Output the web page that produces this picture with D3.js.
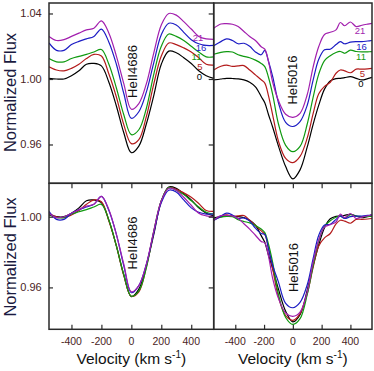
<!DOCTYPE html>
<html><head><meta charset="utf-8">
<script src="https://cdn.jsdelivr.net/npm/d3@7"></script>
<style>body{margin:0;background:#fff}svg{display:block}text{font-family:"Liberation Sans",Arial,sans-serif}</style>
</head><body><svg id="c" width="374" height="371"></svg>
<script>
// ---- data ----
const velocityHeII = [-550,-500,-450,-400,-350,-300,-250,-200,-150,-100,-50,0,50,100,150,200,250,300,350,400,450,500,550];
const velocityHeI = [-550,-500,-460,-420,-380,-340,-300,-260,-220,-195,-170,-140,-100,-50,0,50,100,140,180,220,260,300,330,360,400,440,480,520,550];
const seriesNames = ["0","5","11","16","21"];
const seriesColors = ["#000000","#b31b1b","#109a10","#1c1cc4","#a21fae"];
// top-left: HeII4686 (offset)
const heII_top_0  = [1.0004,1.000,1.000,1.002,1.005,1.009,1.0095,1.008,0.998,0.9835,0.967,0.955,0.959,0.9725,0.990,1.009,1.017,1.016,1.013,1.0095,1.005,1.002,1.0004];
const heII_top_5  = [1.0075,1.0055,1.005,1.0065,1.009,1.0125,1.015,1.014,1.003,0.989,0.972,0.9605,0.963,0.977,0.997,1.014,1.022,1.021,1.019,1.0165,1.013,1.009,1.0085];
const heII_top_11 = [1.0125,1.0105,1.0105,1.0125,1.0138,1.015,1.0165,1.018,1.009,0.9945,0.978,0.966,0.969,0.982,1.003,1.020,1.0275,1.026,1.0235,1.020,1.0165,1.0135,1.0135];
const heII_top_16 = [1.022,1.0175,1.0175,1.021,1.023,1.0245,1.026,1.0305,1.0225,1.009,0.991,0.976,0.980,0.992,1.010,1.027,1.034,1.033,1.0285,1.024,1.0215,1.0205,1.0205];
const heII_top_21 = [1.026,1.0235,1.024,1.026,1.028,1.030,1.031,1.0355,1.028,1.014,0.997,0.9815,0.985,0.997,1.016,1.033,1.040,1.039,1.035,1.0305,1.026,1.0245,1.0242];
// top-right: HeI5016 (offset)
const heI_top_0  = [0.9994,1.000,1.0004,1.0003,1.0001,0.9995,0.998,0.9952,0.9893,0.9855,0.9785,0.9705,0.959,0.9465,0.939,0.9445,0.9585,0.972,0.984,0.9938,0.9988,1.0002,1.0004,1.0008,1.0014,1.0004,0.9994,1.0002,1.001];
const heI_top_5  = [1.0055,1.0078,1.0085,1.0077,1.008,1.0082,1.0055,1.0025,0.9995,0.9975,0.990,0.978,0.962,0.9515,0.9489,0.9527,0.964,0.9785,0.991,0.9955,0.998,1.0035,1.0055,1.005,1.0038,1.006,1.006,1.0062,1.0065];
const heI_top_11 = [1.0151,1.0163,1.0167,1.0165,1.0148,1.0138,1.013,1.0115,1.0095,1.0075,1.0012,0.9905,0.9725,0.9595,0.9556,0.9588,0.9725,0.9885,1.003,1.0112,1.0142,1.0162,1.0168,1.0157,1.0176,1.0168,1.0165,1.0166,1.0167];
const heI_top_16 = [1.0203,1.0228,1.0245,1.0235,1.0215,1.0218,1.020,1.0165,1.0148,1.0175,1.011,1.0015,0.9855,0.9735,0.971,0.974,0.984,0.999,1.012,1.0178,1.0182,1.021,1.0228,1.0215,1.0225,1.0228,1.0228,1.0232,1.0235];
const heI_top_21 = [1.031,1.0336,1.0338,1.0334,1.032,1.029,1.026,1.0235,1.0197,1.0182,1.011,0.998,0.9868,0.9785,0.9766,0.979,0.9905,1.007,1.0198,1.0272,1.0285,1.030,1.0345,1.0325,1.0348,1.032,1.0328,1.0335,1.034];
// bottom-left: HeII4686 (no offset)
const heII_bot_0  = [1.001,1.000,1.000,1.002,1.005,1.009,1.0095,1.008,0.998,0.9835,0.967,0.9548,0.959,0.9725,0.990,1.009,1.0168,1.016,1.013,1.0095,1.005,1.002,1.0004];
const heII_bot_5  = [1.002,1.000,0.9995,1.001,1.0035,1.007,1.0095,1.0085,0.9975,0.9835,0.9665,0.955,0.9575,0.9715,0.9915,1.0085,1.0165,1.0155,1.0135,1.011,1.0075,1.0035,1.003];
const heII_bot_11 = [1.0015,0.9995,0.9995,1.0015,1.0028,1.004,1.0055,1.007,0.998,0.9835,0.967,0.955,0.958,0.971,0.992,1.009,1.0165,1.015,1.0125,1.009,1.0055,1.0025,1.0015];
const heII_bot_16 = [1.003,0.9985,0.9985,1.002,1.004,1.0055,1.007,1.0115,1.0035,0.990,0.972,0.957,0.961,0.973,0.991,1.008,1.015,1.014,1.0095,1.005,1.0025,1.0015,1.0015];
const heII_bot_21 = [1.002,0.9995,1.000,1.002,1.004,1.006,1.007,1.0115,1.004,0.990,0.973,0.9575,0.961,0.973,0.992,1.009,1.016,1.015,1.011,1.0065,1.002,1.0005,1.000];
// bottom-right: HeI5016 (no offset)
const heI_bot_0  = [0.9994,1.000,1.0004,1.0003,1.0001,0.9995,0.998,0.9952,0.9893,0.9855,0.9785,0.9705,0.959,0.9465,0.9405,0.9445,0.9585,0.972,0.984,0.9938,0.9988,1.0002,1.0004,1.0008,1.0014,1.0004,0.9994,1.0002,1.001];
const heI_bot_5  = [0.998,1.0003,1.001,1.0002,1.0005,1.0007,0.998,0.995,0.992,0.990,0.9825,0.9705,0.9545,0.944,0.9414,0.9452,0.9565,0.971,0.9835,0.988,0.9905,0.996,0.998,0.9975,0.9963,0.9985,0.9985,0.9987,0.999];
const heI_bot_11 = [0.9986,0.9998,1.0002,1.000,0.9983,0.9973,0.9965,0.995,0.993,0.991,0.9847,0.974,0.956,0.943,0.9391,0.9423,0.956,0.972,0.9865,0.9947,0.9977,0.9997,1.0003,0.9992,1.0011,1.0003,1.000,1.0001,1.0002];
const heI_bot_16 = [0.9978,1.0003,1.002,1.001,0.999,0.9993,0.9975,0.9935,0.9905,0.990,0.982,0.9725,0.963,0.951,0.9485,0.9515,0.9615,0.976,0.9895,0.9953,0.9957,0.9985,1.0003,0.999,1.000,1.0003,1.0003,1.0007,1.001];
const heI_bot_21 = [0.998,1.0006,1.0008,1.0004,0.999,0.996,0.993,0.9895,0.986,0.9852,0.978,0.965,0.9538,0.9455,0.9436,0.946,0.9575,0.974,0.9868,0.9942,0.9955,0.997,1.0015,0.9995,1.0018,0.999,0.9998,1.0005,1.001];
const xTicks = [-400,-200,0,200,400];
const yTicksTop = [0.96,1.00,1.04];
const yTicksBot = [0.96,1.00];
const lineLabels = ["HeII4686","HeI5016"];

// ---- layout ----
const svg = d3.select("#c");
const colX = [[49,213.7],[213.7,372]];
const rowY = [[3,183.3],[183.3,329.3]];
const yDom = [[0.9363,1.0464],[0.9363,1.0189]];
const frame = "#2a2a2a", tickCol = "#4a2424";

const panels = [
  {c:0,r:0,v:velocityHeII,data:[heII_top_0,heII_top_5,heII_top_11,heII_top_16,heII_top_21],label:lineLabels[0],ly:71.5,lx:137},
  {c:1,r:0,v:velocityHeI,data:[heI_top_0,heI_top_5,heI_top_11,heI_top_16,heI_top_21],label:lineLabels[1],ly:80,lx:297},
  {c:0,r:1,v:velocityHeII,data:[heII_bot_0,heII_bot_5,heII_bot_11,heII_bot_16,heII_bot_21],label:lineLabels[0],ly:243,lx:137},
  {c:1,r:1,v:velocityHeI,data:[heI_bot_0,heI_bot_5,heI_bot_11,heI_bot_16,heI_bot_21],label:lineLabels[1],ly:267.5,lx:298}
];

panels.forEach(p=>{
  const x = d3.scaleLinear().domain([-550,550]).range(colX[p.c]);
  const y = d3.scaleLinear().domain(yDom[p.r]).range([rowY[p.r][1],rowY[p.r][0]]);
  p.x=x; p.y=y;
  const clipId = "clip"+p.c+p.r;
  svg.append("clipPath").attr("id",clipId).append("rect")
    .attr("x",colX[p.c][0]).attr("y",rowY[p.r][0])
    .attr("width",colX[p.c][1]-colX[p.c][0]).attr("height",rowY[p.r][1]-rowY[p.r][0]);
  const g = svg.append("g").attr("clip-path","url(#"+clipId+")");
  const line = d3.line().x((d,i)=>x(p.v[i])).y(d=>y(d)).curve(d3.curveCatmullRom.alpha(0.5));
  p.data.forEach((arr,k)=>{
    g.append("path").attr("d",line(arr)).attr("fill","none")
      .attr("stroke",seriesColors[k]).attr("stroke-width",1.2);
  });
  svg.append("text").attr("transform",`translate(${p.lx},${p.ly}) rotate(-90)`)
    .attr("text-anchor","middle").attr("font-size",13).attr("fill","#111").text(p.label);
});

// frames
panels.forEach(p=>{
  svg.append("rect").attr("x",colX[p.c][0]).attr("y",rowY[p.r][0])
    .attr("width",colX[p.c][1]-colX[p.c][0]).attr("height",rowY[p.r][1]-rowY[p.r][0])
    .attr("fill","none").attr("stroke",frame).attr("stroke-width",1.5);
});

// y ticks
[0,1].forEach(r=>{
  const p = panels.find(q=>q.c===0&&q.r===r);
  const ticks = r===0?yTicksTop:yTicksBot;
  const axL = d3.axisRight(p.y).tickValues(ticks).tickSize(4).tickFormat("");
  const gl = svg.append("g").attr("transform",`translate(${colX[0][0]},0)`).call(axL);
  const axR = d3.axisLeft(p.y).tickValues(ticks).tickSize(5).tickFormat("");
  const gr = svg.append("g").attr("transform",`translate(${colX[0][1]},0)`).call(axR);
  [gl,gr].forEach(g=>{g.select(".domain").remove();g.selectAll("line").attr("stroke",frame).attr("stroke-width",1.2);});
  ticks.forEach(t=>{
    svg.append("text").attr("x",41.7).attr("y",p.y(t)).attr("dy","0.36em")
      .attr("text-anchor","end").attr("font-size",11).attr("fill",tickCol).text(d3.format(".2f")(t));
  });
});

// x ticks
[0,1].forEach(c=>{
  const p = panels.find(q=>q.c===c&&q.r===1);
  const axB = d3.axisTop(p.x).tickValues(xTicks).tickSize(4.5).tickFormat("");
  const gb = svg.append("g").attr("transform",`translate(0,${rowY[1][1]})`).call(axB);
  const axT = d3.axisBottom(p.x).tickValues(xTicks).tickSize(5).tickFormat("");
  const gt = svg.append("g").attr("transform",`translate(0,${rowY[1][0]})`).call(axT);
  [gb,gt].forEach(g=>{g.select(".domain").remove();g.selectAll("line").attr("stroke",frame).attr("stroke-width",1.2);});
  xTicks.forEach(t=>{
    svg.append("text").attr("x",p.x(t)).attr("y",345).attr("text-anchor","middle")
      .attr("font-size",10.5).attr("fill",tickCol).text(t);
  });
  const cx = p.x(0);
  const t = svg.append("text").attr("x",cx).attr("y",364).attr("text-anchor","middle")
    .attr("font-size",15.5).attr("fill","#111");
  t.append("tspan").text("Velocity (km s");
  t.append("tspan").attr("dy",-6).attr("font-size",10).text("-1");
  t.append("tspan").attr("dy",6).text(")");
});

// y axis titles
[92.5,257].forEach(cy=>{
  svg.append("text").attr("transform",`translate(16,${cy}) rotate(-90)`)
    .attr("text-anchor","middle").attr("font-size",16.5).attr("fill","#1a1a40").text("Normalized Flux");
});

// series labels in top panels
const lblLeft = [[199.5,77],[200,66.5],[196.5,57],[201,47.5],[198,38]];
const lblRight = [[361,84],[362.5,73.5],[361,57],[361.5,46.5],[360,31]];
[lblLeft,lblRight].forEach(arr=>{
  arr.forEach((pos,k)=>{
    svg.append("text").attr("x",pos[0]).attr("y",pos[1]).attr("dy","0.36em").attr("text-anchor","middle")
      .attr("font-size",9.5).attr("fill",seriesColors[k]).text(seriesNames[k]);
  });
});
</script></body></html>
